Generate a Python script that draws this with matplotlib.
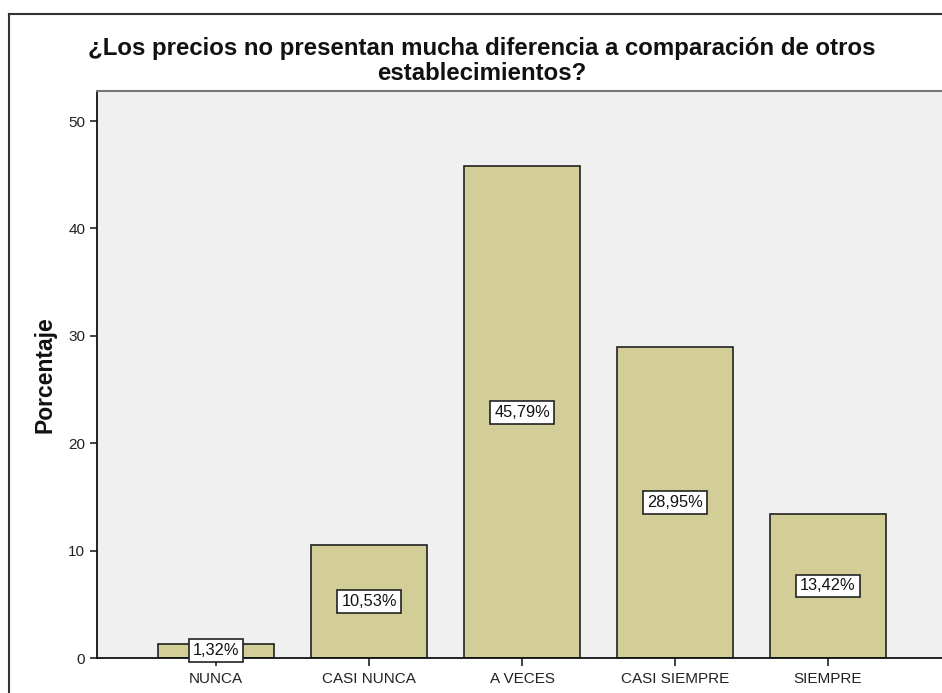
import matplotlib
matplotlib.use("Agg")
import matplotlib.pyplot as plt
from matplotlib.lines import Line2D

categories = ["NUNCA", "CASI NUNCA", "A VECES", "CASI SIEMPRE", "SIEMPRE"]
values = [1.32, 10.53, 45.79, 28.95, 13.42]
value_labels = ["1,32%", "10,53%", "45,79%", "28,95%", "13,42%"]
yticks = [0, 10, 20, 30, 40, 50]
title_lines = ["¿Los precios no presentan mucha diferencia a comparación de otros",
               "establecimientos?"]
ylabel = "Porcentaje"

plt.rcParams['font.family'] = ['Liberation Sans', 'DejaVu Sans']

W, H = 942, 693
fig = plt.figure(figsize=(W / 100, H / 100), dpi=100)
fig.patch.set_facecolor('white')

ax = fig.add_axes([97 / W, 1 - 658 / H, 1 - 97 / W, (658 - 91) / H])
ax.set_facecolor('#f0f0f0')

x = list(range(len(categories)))
ax.bar(x, values, width=0.76, color='#d3ce97', edgecolor='#222222', linewidth=1.2, zorder=2)

for xi, v, lab in zip(x, values, value_labels):
    ax.text(xi, v / 2, lab, ha='center', va='center', fontsize=11.8, color='#111111', zorder=3,
            bbox=dict(boxstyle='square,pad=0.24', facecolor='white', edgecolor='#222222', linewidth=1.2))

ax.set_xlim(-0.778, 4.745)
ax.set_ylim(0, 52.8)
ax.set_yticks(yticks)
ax.set_xticks(x)
ax.set_xticklabels(categories)
ax.tick_params(axis='both', labelsize=11, colors='#222222', length=5, width=1.2, direction='out')
ax.tick_params(axis='x', pad=4, length=6)

for s in ['left', 'bottom']:
    ax.spines[s].set_color('#111111')
    ax.spines[s].set_linewidth(1.3)
ax.spines['top'].set_color('#777777')
ax.spines['top'].set_linewidth(1.5)
ax.spines['right'].set_visible(False)

fig.text(45 / W, 1 - 375 / H, ylabel, rotation=90, ha='center', va='center',
         fontsize=16.5, fontweight='bold', color='#111111')

fig.text(482 / W, 1 - 49 / H, title_lines[0], ha='center', va='center', fontsize=17.3,
         fontweight='bold', color='#111111')
fig.text(482 / W, 1 - 73 / H, title_lines[1], ha='center', va='center', fontsize=17.3,
         fontweight='bold', color='#111111')

fig.add_artist(Line2D([9 / W, 1.0], [1 - 14 / H, 1 - 14 / H], transform=fig.transFigure,
                      color='#333333', linewidth=1.5))
fig.add_artist(Line2D([9 / W, 9 / W], [0, 1 - 14 / H], transform=fig.transFigure,
                      color='#333333', linewidth=1.5))

fig.savefig('out.png', dpi=100)
